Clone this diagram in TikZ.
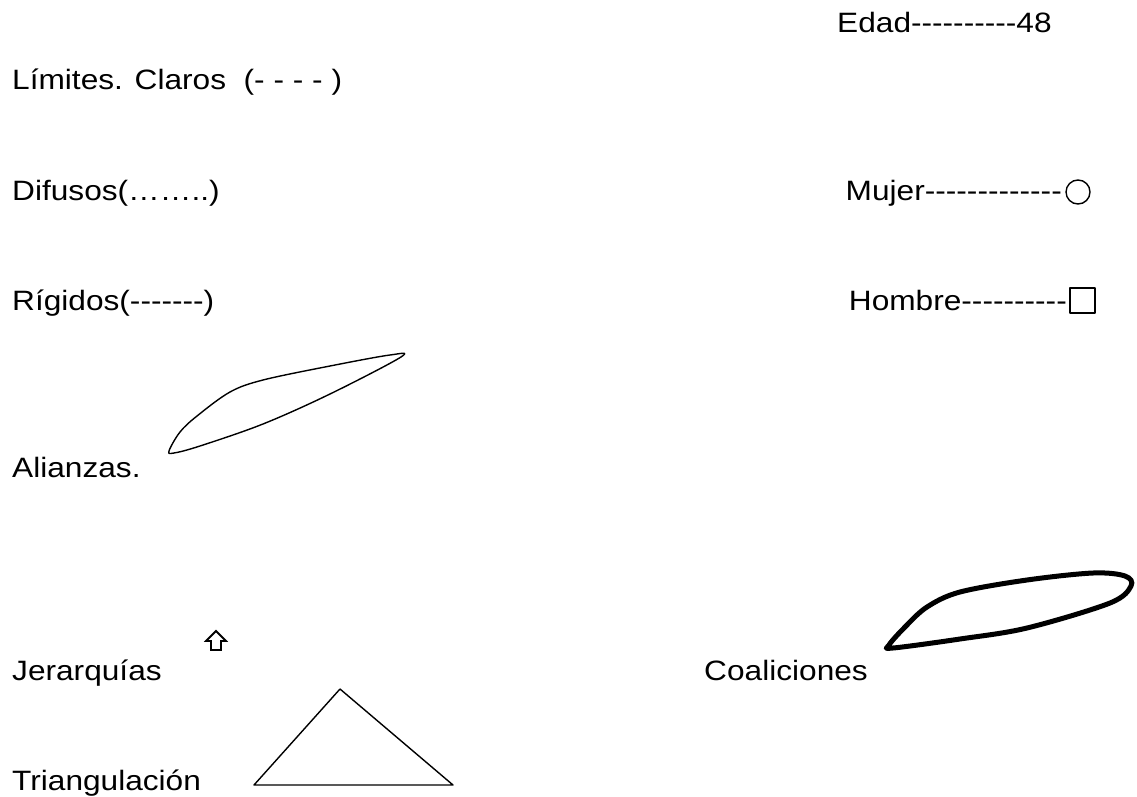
\documentclass[tikz,border=0pt]{standalone}
\usepackage{fontspec}
\setmainfont{Liberation Sans}[FakeStretch=1.13,Ligatures=TeXOff]
\begin{document}
\begin{tikzpicture}[x=1pt,y=-1pt,
  lbl/.style={inner sep=0pt,font=\fontsize{28}{32}\selectfont},
  thin shape/.style={line width=1.4pt,line join=round},
  thick shape/.style={line width=5pt,line join=round}]
\useasboundingbox (0,0) rectangle (1137,797);
\node[lbl,anchor=base west] (edad) at (837,33) {Edad----------48};
\node[lbl,anchor=base west] (lim) at (12,90) {Límites. Claros\ \ (- - - - )};
\node[lbl,anchor=base west] (dif) at (12,200) {Difusos(……..)};
\node[lbl,anchor=base west] (rig) at (12,310) {Rígidos(-------)};
\node[lbl,anchor=base east] (muj) at (1062,200) {Mujer-------------};
\node[lbl,anchor=base east] (hom) at (1067,310) {Hombre----------};
\node[lbl,anchor=base west] (ali) at (12,477) {Alianzas.};
\node[lbl,anchor=base west] (jer) at (12,680) {Jerarquías};
\node[lbl,anchor=base east] (coa) at (868,680) {Coaliciones};
\node[lbl,anchor=base west] (tri) at (12,790) {Triangulación};
% circle and square
\draw[thin shape] (1078,192) circle (12);
\draw[thin shape] (1070,288) rectangle (1095,313);
% alianza
\draw[thin shape] plot[smooth cycle,tension=0.55] coordinates
  {(169,451) (180,432) (197,416) (230,392) (263,380) (330,366) (390,355) (401,357) (330,394) (263,424) (200,446) (174,453)};
% coalicion
\draw[thick shape] plot[smooth cycle,tension=0.55] coordinates
  {(889,645) (905,627) (927,607) (960,592) (1027,580) (1093,573) (1125,576) (1131,586) (1110,603) (1027,628) (960,639) (893,648)};
% arrow
\draw[line width=1.8pt,line join=miter] (211,650) -- (211,641) -- (206,641) -- (216,631) -- (226,641) -- (221,641) -- (221,650) -- cycle;
% triangle
\draw[thin shape] (254,785) -- (340,689) -- (453,785) -- cycle;
\end{tikzpicture}
\end{document}
